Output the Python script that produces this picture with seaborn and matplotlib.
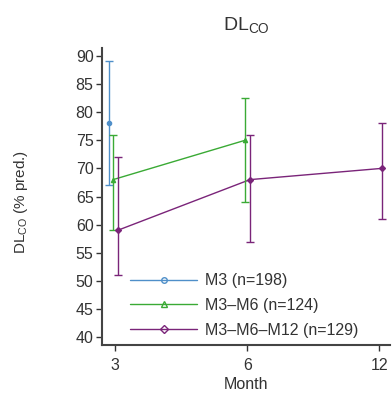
import matplotlib
matplotlib.use("Agg")
import matplotlib.pyplot as plt
import seaborn as sns
import pandas as pd
import numpy as np
from matplotlib.lines import Line2D

months = ["3", "6", "12"]
groups = ["M3 (n=198)", "M3–M6 (n=124)", "M3–M6–M12 (n=129)"]
m3_mean = [78]
m3_lo = [67]
m3_hi = [89]
m36_mean = [68, 75]
m36_lo = [59, 64]
m36_hi = [76, 82.5]
m3612_mean = [59, 68, 70]
m3612_lo = [51, 57, 61]
m3612_hi = [72, 76, 78]

colors = ["#4f8fc9", "#3aaa35", "#7a2479"]
markers = ["o", "^", "D"]
offsets = [-0.045, -0.015, 0.02]

rows = []
for g, means, los, his in [(groups[0], m3_mean, m3_lo, m3_hi),
                           (groups[1], m36_mean, m36_lo, m36_hi),
                           (groups[2], m3612_mean, m3612_lo, m3612_hi)]:
    for i, (m, lo, hi) in enumerate(zip(means, los, his)):
        rows.append(dict(group=g, month=months[i], idx=i, mean=m, lo=lo, hi=hi))
df = pd.DataFrame(rows)
df["x"] = df["idx"] + df["group"].map(dict(zip(groups, offsets)))

sns.set_style("white")
plt.rcParams["font.family"] = ["Liberation Sans", "DejaVu Sans"]
plt.rcParams["mathtext.fontset"] = "custom"
plt.rcParams["mathtext.rm"] = "Liberation Sans"
plt.rcParams["mathtext.it"] = "Liberation Sans"

fig = plt.figure(figsize=(3.92, 3.99), dpi=100)
ax = fig.add_axes([0.26, 0.135, 0.735, 0.745])

pal = dict(zip(groups, colors))
sns.lineplot(data=df, x="x", y="mean", hue="group", palette=pal, ax=ax,
             legend=False, linewidth=1.0, hue_order=groups)
for g, c, mk in zip(groups, colors, markers):
    sub = df[df["group"] == g]
    ax.errorbar(sub["x"], sub["mean"],
                yerr=[sub["mean"] - sub["lo"], sub["hi"] - sub["mean"]],
                fmt=mk, color=c, ms=3, mfc=c, elinewidth=1.0, capsize=3,
                capthick=1.0, linestyle="none")

ax.set_xlim(-0.1, 2.08)
ax.set_ylim(38.6, 91.4)
ax.set_xticks([0, 1, 2])
ax.set_xticklabels(months)
ax.set_yticks(range(40, 91, 5))
ax.tick_params(axis="both", labelsize=11.5, length=4, width=1, color="#333333",
               labelcolor="#333333", direction="out", pad=2, bottom=True, left=True)
ax.tick_params(axis="x", pad=5)
for s in ["top", "right"]:
    ax.spines[s].set_visible(False)
for s in ["left", "bottom"]:
    ax.spines[s].set_color("#444444")
    ax.spines[s].set_linewidth(1.5)

ax.set_xlabel("Month", fontsize=11.5, labelpad=3, color="#333333")
ax.set_ylabel(r"DL$_{\mathrm{CO}}$ (% pred.)", fontsize=11, color="#333333")
ax.yaxis.set_label_coords(-0.25, 0.48)
ax.set_title(r"DL$_{\mathrm{CO}}$", fontsize=14, pad=13, color="#333333")

handles = [Line2D([0], [0], color=c, marker=mk, ms=4, mfc="none", lw=1.0)
           for c, mk in zip(colors, markers)]
leg = ax.legend(handles, groups, loc="lower left", frameon=False, fontsize=11.5,
                handlelength=4.2, bbox_to_anchor=(0.06, -0.012), labelspacing=0.6,
                borderaxespad=0.3, handletextpad=0.5)
for t in leg.get_texts():
    t.set_color("#333333")

fig.savefig("out.png", dpi=100)
